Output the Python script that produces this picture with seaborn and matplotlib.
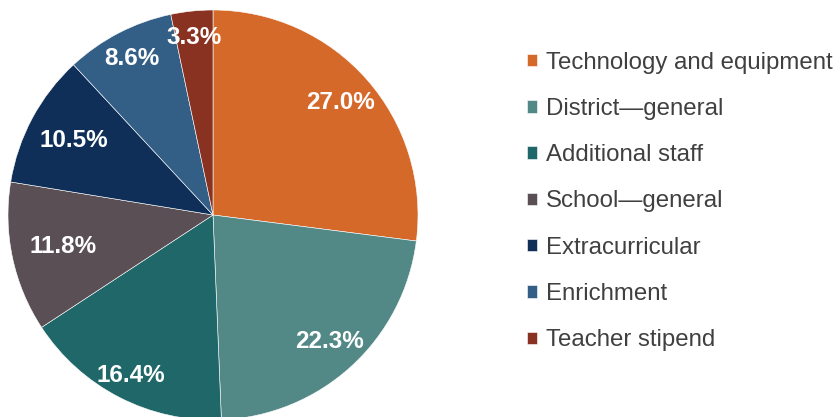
import matplotlib
matplotlib.use("Agg")
import matplotlib.pyplot as plt
import numpy as np
import seaborn as sns

# ── Data ───────────────────────────────────────────────────
categories = ["Technology and equipment", "District\u2014general", "Additional staff",
              "School\u2014general", "Extracurricular", "Enrichment", "Teacher stipend"]
shares = [27.0, 22.3, 16.4, 11.8, 10.5, 8.6, 3.3]
colors = ["#D4692A", "#528886", "#1F6769", "#5A4F55", "#0F2F59", "#335F87", "#8A3222"]
# radial distance of each % label (best-fit placement pulls some labels inward)
label_r = [0.83, 0.84, 0.88, 0.75, 0.77, 0.86, 0.87]

sns.set_theme(style="white")
plt.rcParams["font.family"] = ["Liberation Sans", "DejaVu Sans"]

fig = plt.figure(figsize=(8.38, 4.17), dpi=100)
ax = fig.add_axes([8 / 838, -3 / 417, 410 / 838, 410 / 417])

wedges, texts, autotexts = ax.pie(
    shares, colors=colors, startangle=90, counterclock=False,
    autopct="%.1f%%", pctdistance=0.85,
    wedgeprops=dict(edgecolor="white", linewidth=0.4),
    textprops=dict(color="white", fontsize=17.5, fontweight="bold"))

for w, t, r in zip(wedges, autotexts, label_r):
    mid = np.deg2rad((w.theta1 + w.theta2) / 2)
    t.set_position((r * np.cos(mid), r * np.sin(mid)))

ax.set_xlim(-1, 1)
ax.set_ylim(-1, 1)
ax.set_aspect("equal")

fig.legend(wedges, categories, loc="center left", bbox_to_anchor=(527 / 838, 1 - 201.5 / 417),
           frameon=False, fontsize=17.3, labelcolor="#404040",
           handlelength=0.42, handleheight=0.42, handletextpad=0.38,
           labelspacing=1.01, borderpad=0, borderaxespad=0)

fig.savefig("out.png", dpi=100)
